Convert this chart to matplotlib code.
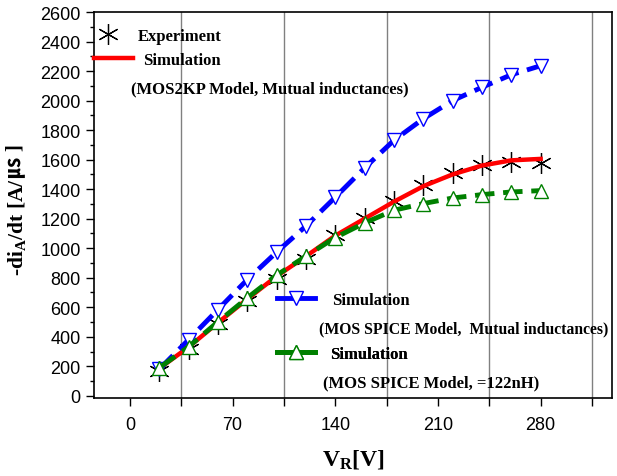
import matplotlib
matplotlib.use("Agg")
import matplotlib.pyplot as plt
import numpy as np
from matplotlib.lines import Line2D
from matplotlib.ticker import MultipleLocator

# data
vr = [20, 40, 60, 80, 100, 120, 140, 160, 180, 200, 220, 240, 260, 280]
experiment = [170, 320, 485, 640, 790, 930, 1090, 1205, 1318, 1431, 1510, 1566, 1584, 1580]
simMos2kp = [185, 330, 495, 655, 810, 945, 1085, 1200, 1315, 1420, 1500, 1560, 1595, 1605]
simSpiceMutual = [180, 380, 584, 787, 973, 1150, 1345, 1544, 1731, 1877, 2000, 2090, 2175, 2236]
simSpice122 = [190, 332, 501, 663, 817, 946, 1072, 1171, 1257, 1302, 1340, 1363, 1381, 1390]

serif = "Liberation Serif"
plt.rcParams["font.family"] = ["Liberation Sans", "DejaVu Sans"]
plt.rcParams["mathtext.fontset"] = "custom"
plt.rcParams["mathtext.rm"] = "Liberation Serif:bold"
plt.rcParams["mathtext.bf"] = "Liberation Serif:bold"
plt.rcParams["mathtext.it"] = "Liberation Serif:bold"

legFont = {"family": serif, "weight": "bold", "size": 12}
starMarker = (6, 2, 0)

fig = plt.figure(figsize=(6.17, 4.77), dpi=100)
ax = fig.add_axes([0.1523, 0.1635, 0.8397, 0.8092])

ax.plot(vr, experiment, ls="none", marker=starMarker, ms=15, mec="black", mew=0.9, zorder=3)
ax.plot(vr, simMos2kp, "-", color="red", lw=3.2, zorder=4)
ax.plot(vr, simSpiceMutual, "--", color="blue", lw=3.5, dashes=(4, 1.8),
        marker="v", ms=10, mfc="white", mec="blue", mew=1.0, zorder=5)
ax.plot(vr, simSpice122, "--", color="green", lw=3.5, dashes=(4, 1.8),
        marker="^", ms=10, mfc="white", mec="green", mew=1.0, zorder=6)

ax.set_xlim(-24.5, 328.7)
ax.set_ylim(-15, 2600)
ax.xaxis.set_major_locator(MultipleLocator(70))
ax.xaxis.set_minor_locator(MultipleLocator(35))
ax.yaxis.set_major_locator(MultipleLocator(200))
ax.yaxis.set_minor_locator(MultipleLocator(100))
ax.tick_params(which="major", direction="out", length=6, width=1, labelsize=13)
ax.tick_params(which="minor", direction="out", length=3, width=1)
ax.tick_params(axis="x", which="minor", length=6)
ax.tick_params(axis="x", which="major", pad=7)
# vertical grid only on the half-way x ticks
for xv in np.arange(35, 330, 70):
    ax.axvline(xv, color="#808080", lw=1.0, zorder=1)
for sp in ax.spines.values():
    sp.set_linewidth(1.2)

ax.set_xlabel(r"V$_\mathbf{R}$[V]", family=serif, weight="bold", size=17, labelpad=10)
ax.set_ylabel(r"-di$_\mathbf{A}$/dt [A/", family=serif, weight="bold", size=15.5, labelpad=9)
ax.yaxis.label.set_y(0.446)
ax.annotate("㎲ ]", xy=(0.5, 1), xycoords=ax.yaxis.label, xytext=(-1.5, 0),
            textcoords="offset points", rotation=90, ha="center", va="bottom",
            family=[serif, "Noto Sans CJK KR"], weight="bold", size=15.5)


def legendRow(handle, label, x0, y0, hlen, pad):
    leg = ax.legend([handle], [label], loc="center left", bbox_to_anchor=(x0, y0),
                    frameon=False, borderpad=0, borderaxespad=0, prop=legFont,
                    handlelength=hlen, handletextpad=pad)
    ax.add_artist(leg)


legendRow(Line2D([], [], ls="none", marker=starMarker, ms=15, mec="black", mew=0.9),
          "Experiment", 0.0, 0.938, 1.7, 0.95)
legendRow(Line2D([], [], color="red", lw=3.2), "Simulation", 0.0, 0.876, 2.35, 0.6)
legendRow(Line2D([], [], color="blue", lw=3.5, marker="v", ms=10, mfc="white", mec="blue"),
          "Simulation", 0.353, 0.254, 2.3, 1.0)
legendRow(Line2D([], [], color="green", lw=3.5, marker="^", ms=10, mfc="white", mec="green"),
          "Simulation", 0.353, 0.114, 2.3, 0.9)

ax.text(0.0714, 0.803, "(MOS2KP Model, Mutual inductances)", transform=ax.transAxes,
        va="center", fontdict=legFont)
ax.text(0.434, 0.181, "(MOS SPICE Model,  Mutual inductances)", transform=ax.transAxes,
        va="center", family=serif, weight="bold", size=11.3)
ax.text(0.442, 0.041, "(MOS SPICE Model, =122nH)", transform=ax.transAxes,
        va="center", fontdict=legFont)

fig.savefig("out.png", dpi=100)
